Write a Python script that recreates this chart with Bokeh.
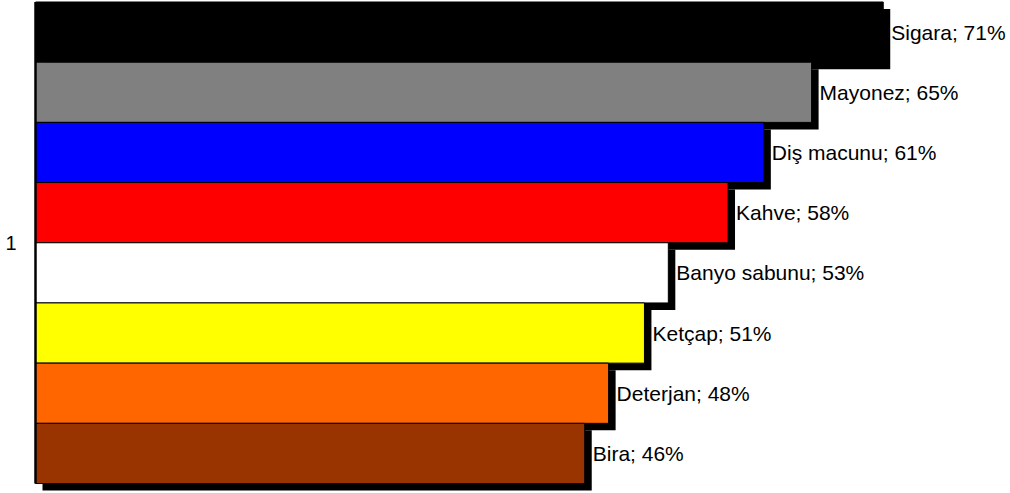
from bokeh.plotting import figure
from bokeh.models import Range1d, FixedTicker, ColumnDataSource
from bokeh.embed import file_html
from bokeh.resources import INLINE
from bokeh.core.properties import value

categories = ["Sigara", "Mayonez", "Diş macunu", "Kahve", "Banyo sabunu", "Ketçap", "Deterjan", "Bira"]
values = [71, 65, 61, 58, 53, 51, 48, 46]
colors = ["#000000", "#808080", "#0000FF", "#FF0000", "#FFFFFF", "#FFFF00", "#FF6600", "#993300"]
group_label = "1"

n = len(categories)
W, H = 1010, 493
frame_left = 33
zero_px = 35
px_x = 11.94
px_y = 60.19
top_px = 1.5
x_start = -(zero_px - frame_left) / px_x
x_end = x_start + (W - frame_left) / px_x
y_end = n + top_px / px_y
y_start = y_end - H / px_y
sx = 7 / px_x
sy = 7 / px_y

tops = [n - i for i in range(n)]
bottoms = [n - i - 1 for i in range(n)]
src = ColumnDataSource(dict(
    left=[0] * n, right=values, top=tops, bottom=bottoms, color=colors,
    sl=[sx] * n, sr=[v + sx for v in values], st=[t - sy for t in tops], sb=[b - sy for b in bottoms],
    ymid=[b + 0.5 for b in bottoms],
    label=[f"{c}; {v}%" for c, v in zip(categories, values)],
))

p = figure(width=W, height=H, x_range=Range1d(x_start, x_end), y_range=Range1d(y_start, y_end),
           output_backend="svg", toolbar_location=None, x_axis_location=None,
           min_border_left=frame_left, min_border_right=0, min_border_top=0, min_border_bottom=0)
p.outline_line_color = None
p.grid.visible = False
p.background_fill_color = "white"
p.border_fill_color = "white"

# shadows
p.quad(left="sl", right="sr", top="st", bottom="sb", source=src, fill_color="black", line_color=None)
# bars
p.quad(left="left", right="right", top="top", bottom="bottom", source=src, fill_color="color",
       line_color="black", line_width=1)
# left axis line along the bars
p.segment(x0=[0], y0=[0], x1=[0], y1=[n], line_color="black", line_width=2.5)

p.text(x="right", y="ymid", text="label", source=src, x_offset=8, text_align="left",
       text_baseline="middle", text_font=value("Liberation Sans"), text_font_size="21px",
       text_color="black")

mid = n // 2 if n % 2 == 0 else n / 2
yax = p.yaxis[0]
yax.ticker = FixedTicker(ticks=[mid])
yax.major_label_overrides = {mid: group_label}
yax.axis_line_color = None
yax.major_tick_line_color = None
yax.minor_tick_line_color = None
yax.major_tick_out = 0
yax.major_tick_in = 0
yax.major_label_standoff = 17
yax.major_label_text_font = "Liberation Sans"
yax.major_label_text_font_size = "20px"
yax.major_label_text_color = "black"

open("out.html", "w").write(file_html(p, INLINE))
